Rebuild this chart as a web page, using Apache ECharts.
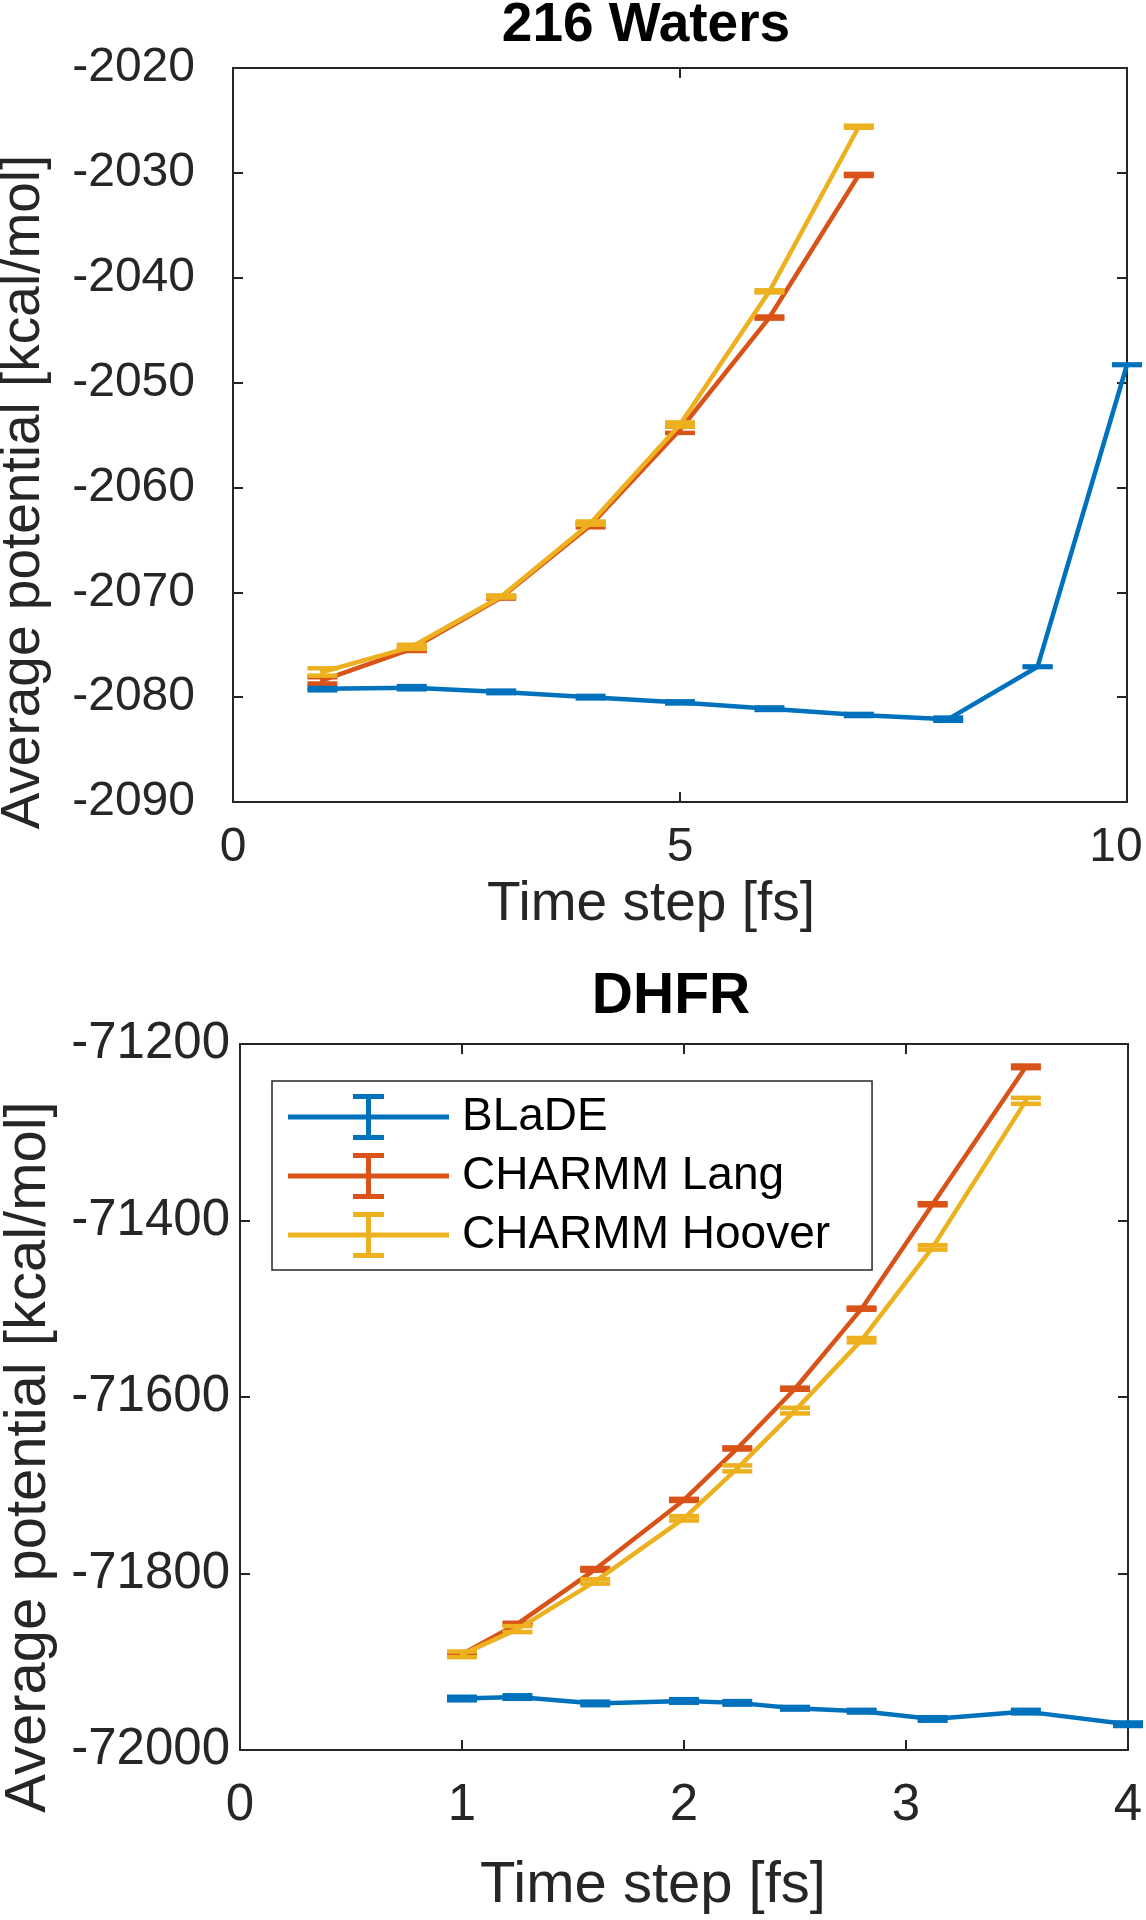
<!DOCTYPE html>
<html><head><meta charset="utf-8">
<script src="https://cdn.jsdelivr.net/npm/echarts@6/dist/echarts.min.js"></script>
<style>html,body{margin:0;padding:0;background:#fff}#c{width:1146px;height:1920px}</style>
</head><body><div id="c"></div>
<script>
// ---------- data ----------
const seriesNames = ['BLaDE', 'CHARMM Lang', 'CHARMM Hoover'];
const seriesColors = ['#0072BD', '#D95319', '#EDB120'];

// Panel 1: 216 Waters
const watersXTicks = [0, 5, 10];
const watersYTicks = [-2090, -2080, -2070, -2060, -2050, -2040, -2030, -2020];
const watersBladeSteps = [1, 2, 3, 4, 5, 6, 7, 8, 9, 10];
const watersBladeMean = [-2079.2, -2079.1, -2079.5, -2080.0, -2080.5, -2081.1, -2081.7, -2082.1, -2077.1, -2048.3];
const watersBladeErr = [0.15, 0.15, 0.12, 0.12, 0.1, 0.12, 0.1, 0.15, 0.03, 0.03];
const watersCharmmSteps = [1, 2, 3, 4, 5, 6, 7];
const watersLangMean = [-2078.4, -2075.4, -2070.5, -2063.6, -2054.5, -2043.8, -2030.2];
const watersLangErr = [0.3, 0.2, 0.1, 0.2, 0.3, 0.1, 0.1];
const watersHooverMean = [-2077.6, -2075.2, -2070.4, -2063.4, -2054.0, -2041.3, -2025.6];
const watersHooverErr = [0.35, 0.2, 0.1, 0.15, 0.2, 0.1, 0.1];

// Panel 2: DHFR
const dhfrXTicks = [0, 1, 2, 3, 4];
const dhfrYTicks = [-72000, -71800, -71600, -71400, -71200];
const dhfrBladeSteps = [1.0, 1.25, 1.6, 2.0, 2.24, 2.5, 2.8, 3.12, 3.54, 4.0];
const dhfrBladeMean = [-71941.7, -71940.0, -71947.2, -71944.4, -71946.6, -71952.7, -71956.0, -71964.8, -71956.5, -71970.8];
const dhfrBladeErr = [2, 2, 2, 2, 2, 1.5, 1.5, 2, 2, 2];
const dhfrCharmmSteps = [1.0, 1.25, 1.6, 2.0, 2.24, 2.5, 2.8, 3.12, 3.54];
const dhfrLangMean = [-71891.6, -71857.0, -71795.3, -71716.6, -71658.3, -71590.6, -71499.9, -71381.6, -71225.9];
const dhfrLangErr = [1.2, 1.2, 1.5, 1.2, 1.2, 1.2, 1.2, 1.2, 1.5];
const dhfrHooverMean = [-71891.6, -71863.0, -71809.0, -71737.5, -71680.9, -71615.4, -71535.6, -71430.5, -71264.4];
const dhfrHooverErr = [3.2, 3.4, 2.5, 2.5, 3.4, 3.2, 2.5, 2.5, 3.4];

// ---------- helpers ----------
const AXIS_COLOR = '#262626';
const FONT = '"Liberation Sans", Arial, Helvetica, sans-serif';
const LW = 4.5;

function triples(xs, ys, es) { return xs.map((x, i) => [x, ys[i], es[i]]); }

function lineSeries(idx, xi, yi, xs, ys) {
  return {
    type: 'line', name: seriesNames[idx], xAxisIndex: xi, yAxisIndex: yi,
    data: xs.map((x, i) => [x, ys[i]]), showSymbol: false, symbol: 'none',
    lineStyle: { color: seriesColors[idx], width: LW }, itemStyle: { color: seriesColors[idx] },
    clip: false, z: 2 + idx, silent: true
  };
}
function errSeries(idx, xi, yi, xs, ys, es) {
  const color = seriesColors[idx];
  return {
    type: 'custom', name: seriesNames[idx], xAxisIndex: xi, yAxisIndex: yi,
    data: triples(xs, ys, es), encode: { x: 0, y: 1 }, clip: false, z: 2 + idx, silent: true,
    itemStyle: { color },
    renderItem(params, api) {
      const x = api.value(0), y = api.value(1), e = api.value(2);
      const lo = api.coord([x, y - e]), hi = api.coord([x, y + e]);
      const hw = 15;
      const style = { stroke: color, lineWidth: LW, fill: null };
      return {
        type: 'group', children: [
          { type: 'line', shape: { x1: lo[0], y1: lo[1], x2: hi[0], y2: hi[1] }, style },
          { type: 'line', shape: { x1: lo[0] - hw, y1: lo[1], x2: lo[0] + hw, y2: lo[1] }, style },
          { type: 'line', shape: { x1: hi[0] - hw, y1: hi[1], x2: hi[0] + hw, y2: hi[1] }, style }
        ]
      };
    }
  };
}
function ticksOf(arr) { return { min: arr[0], max: arr[arr.length - 1], interval: arr[1] - arr[0] }; }

const baseLine = { show: true, onZero: false, lineStyle: { color: AXIS_COLOR, width: 2 } };
const baseTick = { show: true, inside: true, length: 10, lineStyle: { color: AXIS_COLOR, width: 2 } };

function xAxes(grid, ticks, fontSize, labelMargin, nameGap, namePadRight, nameSize, shiftMax) {
  const t = ticksOf(ticks);
  return [
    Object.assign({
      type: 'value', gridIndex: grid, position: 'bottom', splitLine: { show: false },
      axisLine: baseLine, axisTick: baseTick,
      axisLabel: {
        show: true, fontSize, color: AXIS_COLOR, fontFamily: FONT, margin: labelMargin,
        formatter: v => (shiftMax && v === t.max) ? '{s|' + v + '}' : String(v),
        rich: { s: { fontSize, color: AXIS_COLOR, fontFamily: FONT, padding: [0, shiftMax || 0, 0, 0] } }
      },
      name: 'Time step [fs]', nameLocation: 'middle', nameGap,
      nameTextStyle: { fontSize: nameSize, color: AXIS_COLOR, fontFamily: FONT, padding: [0, namePadRight, 0, 0] }
    }, t),
    Object.assign({
      type: 'value', gridIndex: grid, position: 'top', splitLine: { show: false },
      axisLine: baseLine, axisTick: baseTick, axisLabel: { show: false }
    }, t)
  ];
}
function yAxes(grid, ticks, fontSize, labelMargin, nameGap, namePadRight, nameSize) {
  const t = ticksOf(ticks);
  return [
    Object.assign({
      type: 'value', gridIndex: grid, position: 'left', splitLine: { show: false },
      axisLine: baseLine, axisTick: baseTick,
      axisLabel: { show: true, fontSize, color: AXIS_COLOR, fontFamily: FONT, margin: labelMargin, formatter: v => String(v) },
      name: 'Average potential [kcal/mol]', nameLocation: 'middle', nameGap, nameRotate: 90,
      nameTextStyle: { fontSize: nameSize, color: AXIS_COLOR, fontFamily: FONT, padding: [0, namePadRight, 0, 0] }
    }, t),
    Object.assign({
      type: 'value', gridIndex: grid, position: 'right', splitLine: { show: false },
      axisLine: baseLine, axisTick: baseTick, axisLabel: { show: false }
    }, t)
  ];
}

const legendIcon = 'path://M0 20.5H161V25.5H0Z M78 0H83V46H78Z M65 0H96V5H65Z M65 41H96V46H65Z';

const option = {
  animation: false,
  backgroundColor: '#ffffff',
  textStyle: { fontFamily: FONT },
  title: [
    { text: '216 Waters', left: 646, top: -2, textAlign: 'center', padding: 0,
      textStyle: { fontSize: 55, fontWeight: 'bold', color: '#000', fontFamily: FONT, lineHeight: 55 } },
    { text: 'DHFR', left: 671, top: 969, textAlign: 'center', padding: 0,
      textStyle: { fontSize: 57, fontWeight: 'bold', color: '#000', fontFamily: FONT, lineHeight: 57 } }
  ],
  grid: [
    { left: 233, top: 68, width: 894, height: 734, show: false, containLabel: false, outerBoundsMode: 'none' },
    { left: 240, top: 1044, width: 888, height: 706, show: false, containLabel: false, outerBoundsMode: 'none' }
  ],
  xAxis: [].concat(
    xAxes(0, watersXTicks, 48, 22, 75, 58, 55, 22),
    xAxes(1, dhfrXTicks, 51, 30, 107, 62, 58, 0)
  ),
  yAxis: [].concat(
    yAxes(0, watersYTicks, 48, 38, 182, 114, 55),
    yAxes(1, dhfrYTicks, 51, 10, 182, 120, 58)
  ),
  legend: {
    orient: 'vertical', left: 272, top: 1081,
    padding: [13, 42, 12, 16], itemGap: 13, itemWidth: 161, itemHeight: 46,
    borderColor: AXIS_COLOR, borderWidth: 1.5, backgroundColor: '#fff',
    textStyle: { fontSize: 46, color: '#000', fontFamily: FONT, padding: [0, 0, 0, 8], lineHeight: 46 },
    selectedMode: false,
    data: seriesNames.map((n, i) => ({ name: n, icon: legendIcon, itemStyle: { color: seriesColors[i], borderWidth: 0 } }))
  },
  series: [
    lineSeries(0, 0, 0, watersBladeSteps, watersBladeMean),
    errSeries(0, 0, 0, watersBladeSteps, watersBladeMean, watersBladeErr),
    lineSeries(1, 0, 0, watersCharmmSteps, watersLangMean),
    errSeries(1, 0, 0, watersCharmmSteps, watersLangMean, watersLangErr),
    lineSeries(2, 0, 0, watersCharmmSteps, watersHooverMean),
    errSeries(2, 0, 0, watersCharmmSteps, watersHooverMean, watersHooverErr),
    lineSeries(0, 2, 2, dhfrBladeSteps, dhfrBladeMean),
    errSeries(0, 2, 2, dhfrBladeSteps, dhfrBladeMean, dhfrBladeErr),
    lineSeries(1, 2, 2, dhfrCharmmSteps, dhfrLangMean),
    errSeries(1, 2, 2, dhfrCharmmSteps, dhfrLangMean, dhfrLangErr),
    lineSeries(2, 2, 2, dhfrCharmmSteps, dhfrHooverMean),
    errSeries(2, 2, 2, dhfrCharmmSteps, dhfrHooverMean, dhfrHooverErr)
  ]
};

const chart = echarts.init(document.getElementById('c'), null, { renderer: 'canvas' });
chart.setOption(option);
</script>
</body></html>
